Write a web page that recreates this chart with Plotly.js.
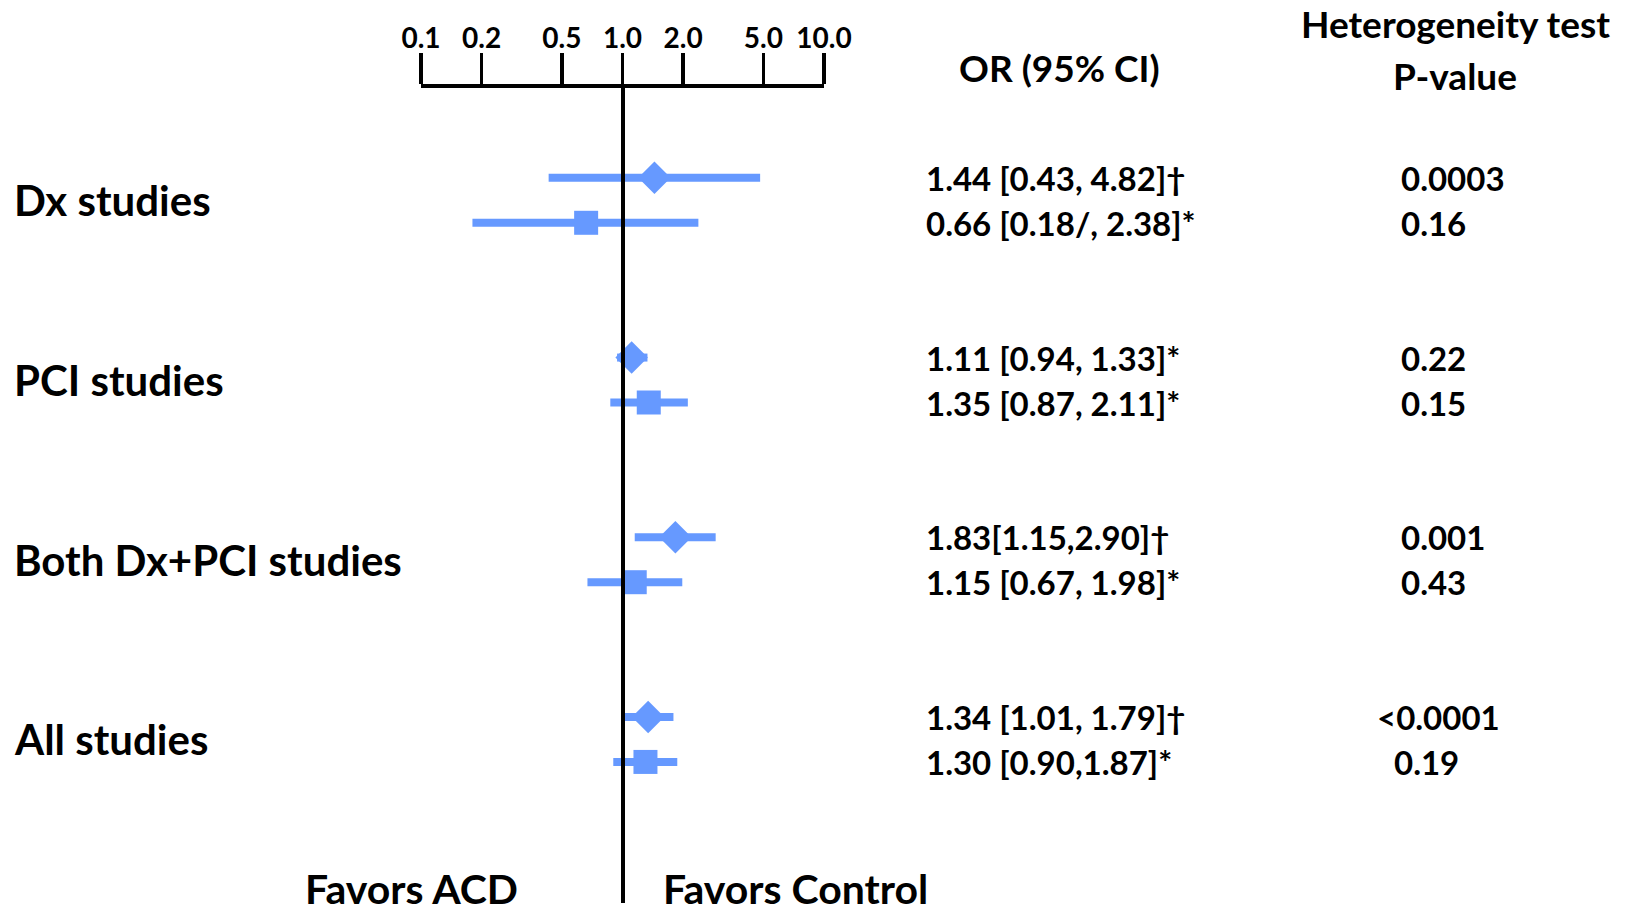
<!DOCTYPE html>
<html>
<head>
<meta charset="utf-8">
<script src="https://cdn.plot.ly/plotly-3.0.1.min.js"></script>
<style>
  html, body { margin: 0; padding: 0; background: #ffffff; }
  #chart { width: 1636px; height: 915px; }
</style>
</head>
<body>
<div id="chart"></div>
<script>
// ---------------- DATA ----------------
const groups = ["Dx studies", "PCI studies", "Both Dx+PCI studies", "All studies"];

// diamond rows
const diamondOR = [1.44, 1.11, 1.83, 1.34];
const diamondLo = [0.43, 0.94, 1.15, 1.01];
const diamondHi = [4.82, 1.33, 2.90, 1.79];
const diamondText = ["1.44 [0.43, 4.82]†", "1.11 [0.94, 1.33]*", "1.83[1.15,2.90]†", "1.34 [1.01, 1.79]†"];
const diamondP = ["0.0003", "0.22", "0.001", "<0.0001"];

// square rows
const squareOR = [0.66, 1.35, 1.15, 1.30];
const squareLo = [0.18, 0.87, 0.67, 0.90];
const squareHi = [2.38, 2.11, 1.98, 1.87];
const squareText = ["0.66 [0.18/, 2.38]*", "1.35 [0.87, 2.11]*", "1.15 [0.67, 1.98]*", "1.30 [0.90,1.87]*"];
const squareP = ["0.16", "0.15", "0.43", "0.19"];

const tickVals = [0.1, 0.2, 0.5, 1.0, 2.0, 5.0, 10.0];
const tickLabels = ["0.1", "0.2", "0.5", "1.0", "2.0", "5.0", "10.0"];

const headerOR = "OR (95% CI)";
const headerHet = ["Heterogeneity test", "P-value"];
const favorLeft = "Favors ACD";
const favorRight = "Favors Control";

// ---------------- LAYOUT HELPERS ----------------
const W = 1636, H = 915;
const M = { l: 421, r: 812, t: 88, b: 12 };
const plotW = W - M.l - M.r, plotH = H - M.t - M.b;
const px2paperX = p => (p - M.l) / plotW;
const px2paperY = p => (H - M.b - p) / plotH;

const BLUE = "#6699ff";
const FONT = "Lato, 'Open Sans', sans-serif";
const WEIGHT = "bold";

// row position on the y axis: group index * 4 + row within group
const rowY = (g, r) => g * 4 + r;

function ciTrace(lo, hi, r) {
  const x = [], y = [];
  lo.forEach((v, i) => {
    x.push(v, hi[i], null);
    y.push(rowY(i, r), rowY(i, r), null);
  });
  return {
    type: "scatter", mode: "lines", x, y,
    line: { color: BLUE, width: 8 },
    hoverinfo: "skip", showlegend: false, connectgaps: false
  };
}

function pointTrace(or, r, symbol, size) {
  return {
    type: "scatter", mode: "markers",
    x: or, y: or.map((_, i) => rowY(i, r)),
    marker: { symbol, size, color: BLUE, line: { width: 0 } },
    showlegend: false
  };
}

const traces = [
  ciTrace(diamondLo, diamondHi, 0),
  ciTrace(squareLo, squareHi, 1),
  pointTrace(diamondOR, 0, "diamond", 25),
  pointTrace(squareOR, 1, "square", 24)
];

const annotations = [];

// group labels
groups.forEach((g, i) => {
  annotations.push({
    text: g, xref: "paper", yref: "y",
    x: px2paperX(12), y: rowY(i, 0.5),
    xanchor: "left", yanchor: "middle", showarrow: false,
    font: { family: FONT, size: 42, color: "#000", weight: WEIGHT }
  });
});

// OR text and p-values
const pShift = { "<0.0001": -24, "0.19": -7 };
[[diamondText, diamondP, 0], [squareText, squareP, 1]].forEach(([txt, pv, r]) => {
  txt.forEach((t, i) => {
    annotations.push({
      text: t, xref: "paper", yref: "y",
      x: px2paperX(924), y: rowY(i, r),
      xanchor: "left", yanchor: "middle", showarrow: false,
      font: { family: FONT, size: 33, color: "#000", weight: WEIGHT }
    });
    annotations.push({
      text: pv[i], xref: "paper", yref: "y",
      x: px2paperX(1399 + (pShift[pv[i]] || 0)), y: rowY(i, r),
      xanchor: "left", yanchor: "middle", showarrow: false,
      font: { family: FONT, size: 33, color: "#000", weight: WEIGHT }
    });
  });
});

// headers
annotations.push({
  text: headerOR, xref: "paper", yref: "paper",
  x: px2paperX(1059), y: px2paperY(68),
  xanchor: "center", yanchor: "middle", showarrow: false,
  font: { family: FONT, size: 37, color: "#000", weight: WEIGHT }
});
headerHet.forEach((h, k) => {
  annotations.push({
    text: h, xref: "paper", yref: "paper",
    x: px2paperX(1455), y: px2paperY(k === 0 ? 23 : 75),
    xanchor: "center", yanchor: "middle", showarrow: false,
    font: { family: FONT, size: 37, color: "#000", weight: WEIGHT }
  });
});

// favors
[[favorLeft, 411], [favorRight, 795]].forEach(([t, cx]) => {
  annotations.push({
    text: t, xref: "paper", yref: "paper",
    x: px2paperX(cx), y: px2paperY(888),
    xanchor: "center", yanchor: "middle", showarrow: false, borderpad: 0,
    font: { family: FONT, size: 41, color: "#000", weight: WEIGHT }
  });
});

const layout = {
  width: W, height: H,
  margin: M,
  paper_bgcolor: "#ffffff", plot_bgcolor: "#ffffff",
  showlegend: false,
  xaxis: {
    type: "log", range: [-1, 1], side: "top",
    tickmode: "array", tickvals: tickVals, ticktext: tickLabels,
    ticks: "outside", ticklen: 31, tickwidth: 3.5, tickcolor: "#000",
    showline: true, linewidth: 4, linecolor: "#000",
    showgrid: false, zeroline: false, fixedrange: true,
    tickfont: { family: FONT, size: 28, color: "#000", weight: WEIGHT },
    ticklabelstandoff: -6
  },
  yaxis: {
    range: [16.14, -2.0], anchor: "free", position: 0.5,
    showline: true, linewidth: 4, linecolor: "#000",
    showticklabels: false, ticks: "", showgrid: false, zeroline: false,
    fixedrange: true
  },
  annotations
};

Plotly.newPlot("chart", traces, layout, { staticPlot: true, displayModeBar: false });
</script>
</body>
</html>
